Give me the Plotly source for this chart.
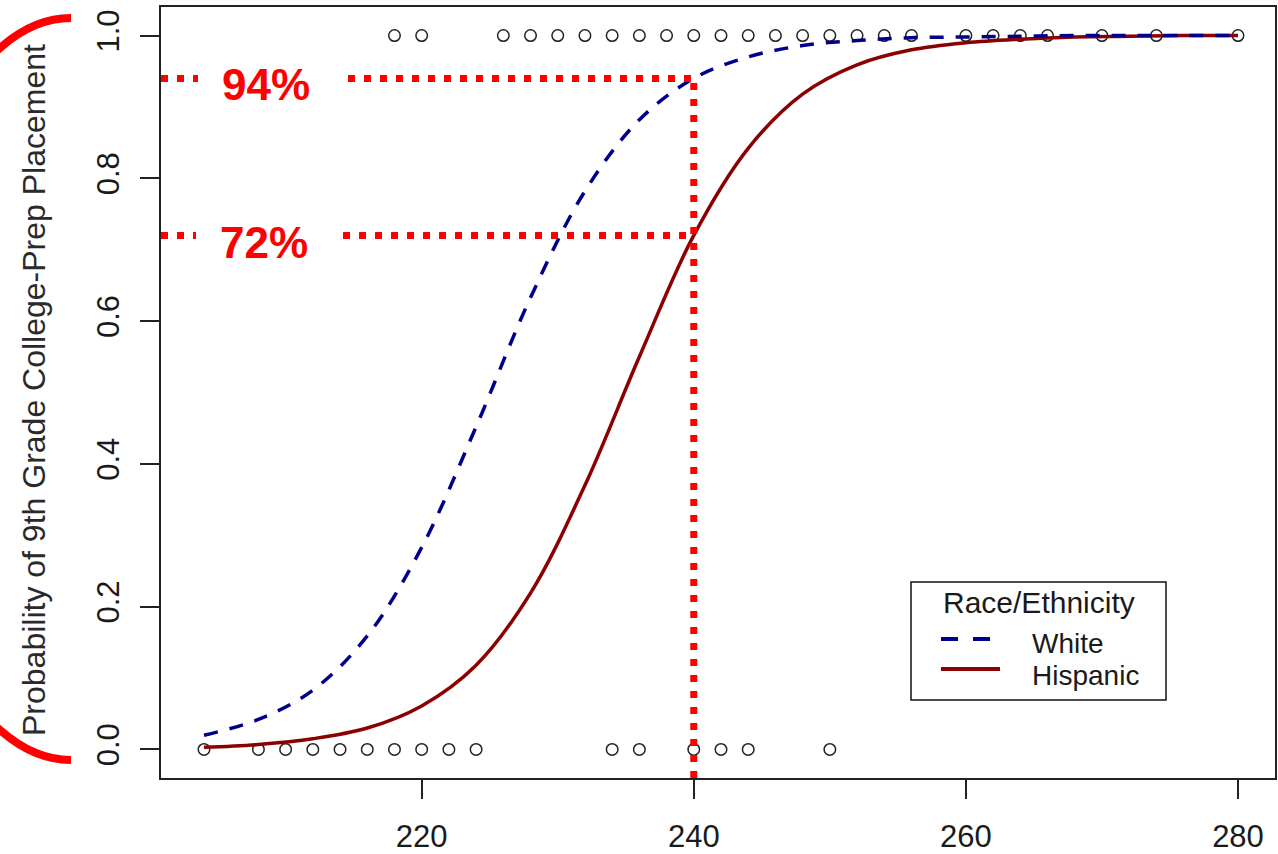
import plotly.graph_objects as go

# Observed outcomes: 8th-grade score of students not placed (0) and placed (1)
score_not_placed = [204, 208, 210, 212, 214, 216, 218, 220, 222, 224, 234, 236, 240, 242, 244, 250]
score_placed = [218, 220, 226, 228, 230, 232, 234, 236, 238, 240, 242, 244, 246, 248,
                250, 252, 254, 256, 260, 262, 264, 266, 270, 274, 280]

# Fitted probability of college-prep placement by score
curve_score = [204, 208, 212, 216, 220, 224, 228, 232, 236, 240,
               244, 248, 252, 256, 260, 264, 268, 272, 276, 280]
white_prob = [0.020, 0.042, 0.083, 0.159, 0.283, 0.452, 0.633, 0.782, 0.882, 0.940,
              0.970, 0.986, 0.993, 0.997, 0.998, 0.999, 1.000, 1.000, 1.000, 1.000]
hispanic_prob = [0.003, 0.007, 0.015, 0.030, 0.061, 0.118, 0.219, 0.370, 0.550, 0.720,
                 0.842, 0.918, 0.959, 0.980, 0.990, 0.995, 0.998, 0.999, 1.000, 1.000]

# Highlighted comparison at score 240
focus_score = 240
focus_white = 0.94
focus_hispanic = 0.72

x_ticks = [220, 240, 260, 280]
y_ticks = [0.0, 0.2, 0.4, 0.6, 0.8, 1.0]
y_tick_text = ["0.0", "0.2", "0.4", "0.6", "0.8", "1.0"]

# Figure geometry (pixels)
W, H = 1278, 854
L, R, T, B = 161, 3, 7, 76
PW, PH = W - L - R, H - T - B
x_range = [200.84, 282.72]
y_range = [-0.04, 1.04]


def px_x(px):
    return (px - L) / PW


def px_y(py):
    return (H - B - py) / PH


def data_x(px):
    return x_range[0] + (px - L) / PW * (x_range[1] - x_range[0])


FONT = "Liberation Sans, Arial, sans-serif"
INK = "#1a1a1a"
DARKRED = "#8b0000"
NAVY = "#00008b"
RED = "#ff0000"

fig = go.Figure()

pts_x = score_not_placed + score_placed
pts_y = [0] * len(score_not_placed) + [1] * len(score_placed)
fig.add_trace(go.Scatter(
    x=pts_x, y=pts_y, mode="markers",
    marker=dict(symbol="circle-open", size=11.5, color="#222222", line=dict(width=1.5)),
    showlegend=False, hoverinfo="skip",
))
fig.add_trace(go.Scatter(
    x=curve_score, y=hispanic_prob, mode="lines", name="Hispanic",
    line=dict(color=DARKRED, width=3.5, shape="spline"), showlegend=False,
))
fig.add_trace(go.Scatter(
    x=curve_score, y=white_prob, mode="lines", name="White",
    line=dict(color=NAVY, width=3.5, dash="14px,12px", shape="spline"), showlegend=False,
))

shapes = []
dot = dict(color=RED, width=7, dash="7px,9px")

# Vertical guide at the focus score
shapes.append(dict(type="line", xref="x", yref="y", x0=focus_score, x1=focus_score,
                   y0=y_range[0], y1=focus_white, line=dot))
# Horizontal guides, broken around the percentage labels
for level, gap_l, gap_r in [(focus_white, 198, 348), (focus_hispanic, 196, 343)]:
    shapes.append(dict(type="line", xref="x", yref="y", x0=x_range[0], x1=data_x(gap_l),
                       y0=level, y1=level, line=dot))
    shapes.append(dict(type="line", xref="x", yref="y", x0=data_x(gap_r), x1=focus_score,
                       y0=level, y1=level, line=dot))

# Red bracket along the y-axis title
cx, cy, rx, ry, k = 71, 389, 180, 371, 0.5523
pts = [
    (cx, cy - ry),
    (cx - k * rx, cy - ry), (cx - rx, cy - k * ry), (cx - rx, cy),
    (cx - rx, cy + k * ry), (cx - k * rx, cy + ry), (cx, cy + ry),
]
p = [(px_x(a), px_y(b)) for a, b in pts]
path = (f"M{p[0][0]},{p[0][1]} C{p[1][0]},{p[1][1]} {p[2][0]},{p[2][1]} {p[3][0]},{p[3][1]} "
        f"C{p[4][0]},{p[4][1]} {p[5][0]},{p[5][1]} {p[6][0]},{p[6][1]}")
shapes.append(dict(type="path", xref="paper", yref="paper", path=path,
                   line=dict(color=RED, width=8)))

# Legend box
shapes.append(dict(type="rect", xref="paper", yref="paper",
                   x0=px_x(911), x1=px_x(1166), y0=px_y(700), y1=px_y(582),
                   line=dict(color="#111111", width=1.5), fillcolor="white"))
shapes.append(dict(type="line", xref="paper", yref="paper",
                   x0=px_x(941), x1=px_x(991), y0=px_y(639), y1=px_y(639),
                   line=dict(color=NAVY, width=4, dash="17px,15px")))
shapes.append(dict(type="line", xref="paper", yref="paper",
                   x0=px_x(941), x1=px_x(1000), y0=px_y(669), y1=px_y(669),
                   line=dict(color=DARKRED, width=4)))

annotations = [
    dict(text="Race/Ethnicity", x=px_x(1039), y=px_y(602), xref="paper", yref="paper",
         xanchor="center", yanchor="middle", showarrow=False,
         font=dict(family=FONT, size=30, color=INK)),
    dict(text="White", x=px_x(1030), y=px_y(643), xref="paper", yref="paper",
         xanchor="left", yanchor="middle", showarrow=False,
         font=dict(family=FONT, size=28, color=INK)),
    dict(text="Hispanic", x=px_x(1030), y=px_y(675), xref="paper", yref="paper",
         xanchor="left", yanchor="middle", showarrow=False,
         font=dict(family=FONT, size=28, color=INK)),
    dict(text="94%", x=px_x(266), y=px_y(85), xref="paper", yref="paper",
         xanchor="center", yanchor="middle", showarrow=False,
         font=dict(family=FONT, size=44, color=RED, weight="bold")),
    dict(text="72%", x=px_x(264), y=px_y(242), xref="paper", yref="paper",
         xanchor="center", yanchor="middle", showarrow=False,
         font=dict(family=FONT, size=44, color=RED, weight="bold")),
    dict(text="Probability of 9th Grade College-Prep Placement", textangle=-90,
         x=px_x(34), y=px_y(390), xref="paper", yref="paper",
         xanchor="center", yanchor="middle", showarrow=False,
         font=dict(family=FONT, size=32, color="#2a2a2a")),
]

axis_common = dict(
    showgrid=False, zeroline=False, showline=True, mirror=True, automargin=False,
    linecolor="#222222", linewidth=2, ticks="outside", ticklen=19, tickwidth=1.5,
    tickcolor="#222222", tickfont=dict(family=FONT, size=31, color=INK),
)

fig.update_layout(
    width=W, height=H,
    margin=dict(l=L, r=R, t=T, b=B, pad=0, autoexpand=False),
    paper_bgcolor="white", plot_bgcolor="white",
    xaxis=dict(range=x_range, tickvals=x_ticks, ticklabelstandoff=11, **axis_common),
    yaxis=dict(range=y_range, tickvals=y_ticks, ticktext=y_tick_text, tickangle=-90,
               ticklabelstandoff=9, **axis_common),
    shapes=shapes, annotations=annotations,
    showlegend=False,
)

fig.write_html("out.html")
